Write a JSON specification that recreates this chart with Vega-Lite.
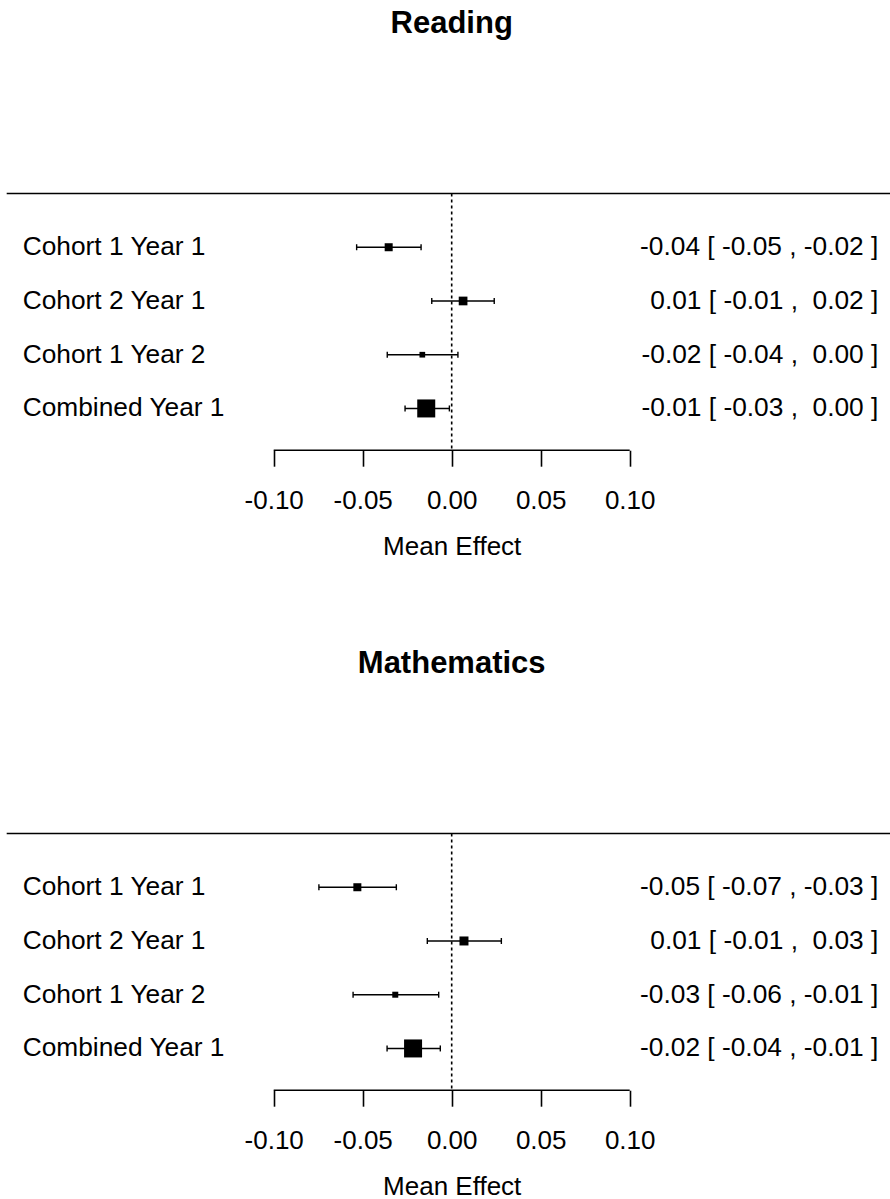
{
  "$schema": "https://vega.github.io/schema/vega-lite/v6.json",
  "background": "white",
  "padding": {"top": 7.5, "left": 0, "right": 0, "bottom": 0},
  "spacing": 88,
  "datasets": {
    "reading": [
      {"study": "Cohort 1 Year 1", "order": 4, "est": -0.0354, "lo": -0.0534, "hi": -0.0172, "weight": 19.8, "ci": "-0.04 [ -0.05 , -0.02 ]"},
      {"study": "Cohort 2 Year 1", "order": 3, "est": 0.0064, "lo": -0.0112, "hi": 0.0239, "weight": 23.4, "ci": "0.01 [ -0.01 , \u00a00.02 ]"},
      {"study": "Cohort 1 Year 2", "order": 2, "est": -0.0165, "lo": -0.0362, "hi": 0.0035, "weight": 10.0, "ci": "-0.02 [ -0.04 , \u00a00.00 ]"},
      {"study": "Combined Year 1", "order": 1, "est": -0.0143, "lo": -0.0262, "hi": -0.0013, "weight": 100, "ci": "-0.01 [ -0.03 , \u00a00.00 ]"}
    ],
    "math": [
      {"study": "Cohort 1 Year 1", "order": 4, "est": -0.0530, "lo": -0.0746, "hi": -0.0311, "weight": 19.8, "ci": "-0.05 [ -0.07 , -0.03 ]"},
      {"study": "Cohort 2 Year 1", "order": 3, "est": 0.0069, "lo": -0.0137, "hi": 0.0279, "weight": 25.0, "ci": "0.01 [ -0.01 , \u00a00.03 ]"},
      {"study": "Cohort 1 Year 2", "order": 2, "est": -0.0317, "lo": -0.0554, "hi": -0.0073, "weight": 11.1, "ci": "-0.03 [ -0.06 , -0.01 ]"},
      {"study": "Combined Year 1", "order": 1, "est": -0.0217, "lo": -0.0363, "hi": -0.0064, "weight": 100, "ci": "-0.02 [ -0.04 , -0.01 ]"}
    ]
  },
  "config": {
    "font": "Liberation Sans",
    "view": {"stroke": null},
    "title": {"fontSize": 31, "fontWeight": "bold", "color": "black", "anchor": "middle", "offset": 152.8, "dx": 6.7, "font": "Liberation Sans"},
    "axis": {"domain": false, "grid": false, "tickSize": 16, "tickWidth": 1.6, "tickColor": "black", "labelFontSize": 26, "labelColor": "black", "labelPadding": 21, "labelFont": "Liberation Sans", "titleFont": "Liberation Sans", "titleFontSize": 26, "titleFontWeight": "normal", "titleColor": "black", "titlePadding": 20, "titleX": 451.7, "labelFlush": false, "labelOverlap": false},
    "text": {"font": "Liberation Sans", "fontSize": 26.3, "color": "black"}
  },
  "vconcat": [
    {
      "title": {"text": "Reading"},
      "width": 890,
      "height": 256.7,
      "data": {"name": "reading"},
      "layer": [
        {
          "data": {"values": [{}]},
          "mark": {"type": "rule", "color": "black", "strokeWidth": 1.7},
          "encoding": {
            "x": {"datum": -0.25, "type": "quantitative", "scale": {"domain": [-0.25376, 0.24624], "nice": false, "zero": false}, "axis": {"values": [-0.1, -0.05, 0, 0.05, 0.1], "format": ".2f", "labelExpr": "replace(datum.label, '\u2212', '-')", "title": "Mean Effect"}},
            "x2": {"datum": 0.24624},
            "y": {"datum": 5, "type": "quantitative", "scale": {"domain": [0.223, 5], "nice": false, "zero": false}, "axis": null}
          }
        },
        {
          "data": {"values": [{}]},
          "mark": {"type": "rule", "color": "black", "strokeWidth": 1.6},
          "encoding": {
            "x": {"datum": -0.1, "type": "quantitative", "scale": {"domain": [-0.25376, 0.24624], "nice": false, "zero": false}, "axis": {"values": [-0.1, -0.05, 0, 0.05, 0.1], "format": ".2f", "labelExpr": "replace(datum.label, '\u2212', '-')", "title": "Mean Effect"}},
            "x2": {"datum": 0.1},
            "y": {"datum": 0.223, "type": "quantitative", "scale": {"domain": [0.223, 5], "nice": false, "zero": false}, "axis": null}
          }
        },
        {
          "data": {"values": [{}]},
          "mark": {"type": "rule", "color": "black", "strokeWidth": 1.6, "strokeDash": [3, 3]},
          "encoding": {
            "x": {"datum": 0, "type": "quantitative", "scale": {"domain": [-0.25376, 0.24624], "nice": false, "zero": false}, "axis": {"values": [-0.1, -0.05, 0, 0.05, 0.1], "format": ".2f", "labelExpr": "replace(datum.label, '\u2212', '-')", "title": "Mean Effect"}}
          }
        },
        {
          "mark": {"type": "rule", "color": "black", "strokeWidth": 1.4},
          "encoding": {
            "x": {"field": "lo", "type": "quantitative", "scale": {"domain": [-0.25376, 0.24624], "nice": false, "zero": false}, "axis": {"values": [-0.1, -0.05, 0, 0.05, 0.1], "format": ".2f", "labelExpr": "replace(datum.label, '\u2212', '-')", "title": "Mean Effect"}},
            "x2": {"field": "hi"},
            "y": {"field": "order", "type": "quantitative", "scale": {"domain": [0.223, 5], "nice": false, "zero": false}, "axis": null}
          }
        },
        {
          "mark": {"type": "tick", "color": "black", "orient": "vertical", "size": 6, "thickness": 1.4, "opacity": 1},
          "encoding": {
            "x": {"field": "lo", "type": "quantitative", "scale": {"domain": [-0.25376, 0.24624], "nice": false, "zero": false}, "axis": {"values": [-0.1, -0.05, 0, 0.05, 0.1], "format": ".2f", "labelExpr": "replace(datum.label, '\u2212', '-')", "title": "Mean Effect"}},
            "y": {"field": "order", "type": "quantitative", "scale": {"domain": [0.223, 5], "nice": false, "zero": false}, "axis": null}
          }
        },
        {
          "mark": {"type": "tick", "color": "black", "orient": "vertical", "size": 6, "thickness": 1.4, "opacity": 1},
          "encoding": {
            "x": {"field": "hi", "type": "quantitative", "scale": {"domain": [-0.25376, 0.24624], "nice": false, "zero": false}, "axis": {"values": [-0.1, -0.05, 0, 0.05, 0.1], "format": ".2f", "labelExpr": "replace(datum.label, '\u2212', '-')", "title": "Mean Effect"}},
            "y": {"field": "order", "type": "quantitative", "scale": {"domain": [0.223, 5], "nice": false, "zero": false}, "axis": null}
          }
        },
        {
          "mark": {"type": "point", "shape": "square", "filled": true, "color": "black", "opacity": 1, "strokeWidth": 0},
          "encoding": {
            "x": {"field": "est", "type": "quantitative", "scale": {"domain": [-0.25376, 0.24624], "nice": false, "zero": false}, "axis": {"values": [-0.1, -0.05, 0, 0.05, 0.1], "format": ".2f", "labelExpr": "replace(datum.label, '\u2212', '-')", "title": "Mean Effect"}},
            "y": {"field": "order", "type": "quantitative", "scale": {"domain": [0.223, 5], "nice": false, "zero": false}, "axis": null},
            "size": {"field": "weight", "type": "quantitative", "scale": {"type": "linear", "domain": [0, 100], "range": [0, 324], "zero": true}, "legend": null}
          }
        },
        {
          "mark": {"type": "text", "align": "left", "baseline": "middle"},
          "encoding": {
            "x": {"datum": -0.241, "type": "quantitative", "scale": {"domain": [-0.25376, 0.24624], "nice": false, "zero": false}, "axis": {"values": [-0.1, -0.05, 0, 0.05, 0.1], "format": ".2f", "labelExpr": "replace(datum.label, '\u2212', '-')", "title": "Mean Effect"}},
            "y": {"field": "order", "type": "quantitative", "scale": {"domain": [0.223, 5], "nice": false, "zero": false}, "axis": null},
            "text": {"field": "study"}
          }
        },
        {
          "mark": {"type": "text", "align": "right", "baseline": "middle"},
          "encoding": {
            "x": {"datum": 0.2397, "type": "quantitative", "scale": {"domain": [-0.25376, 0.24624], "nice": false, "zero": false}, "axis": {"values": [-0.1, -0.05, 0, 0.05, 0.1], "format": ".2f", "labelExpr": "replace(datum.label, '\u2212', '-')", "title": "Mean Effect"}},
            "y": {"field": "order", "type": "quantitative", "scale": {"domain": [0.223, 5], "nice": false, "zero": false}, "axis": null},
            "text": {"field": "ci"}
          }
        }
      ]
    },
    {
      "title": {"text": "Mathematics"},
      "width": 890,
      "height": 256.7,
      "data": {"name": "math"},
      "layer": [
        {
          "data": {"values": [{}]},
          "mark": {"type": "rule", "color": "black", "strokeWidth": 1.7},
          "encoding": {
            "x": {"datum": -0.25, "type": "quantitative", "scale": {"domain": [-0.25376, 0.24624], "nice": false, "zero": false}, "axis": {"values": [-0.1, -0.05, 0, 0.05, 0.1], "format": ".2f", "labelExpr": "replace(datum.label, '\u2212', '-')", "title": "Mean Effect"}},
            "x2": {"datum": 0.24624},
            "y": {"datum": 5, "type": "quantitative", "scale": {"domain": [0.223, 5], "nice": false, "zero": false}, "axis": null}
          }
        },
        {
          "data": {"values": [{}]},
          "mark": {"type": "rule", "color": "black", "strokeWidth": 1.6},
          "encoding": {
            "x": {"datum": -0.1, "type": "quantitative", "scale": {"domain": [-0.25376, 0.24624], "nice": false, "zero": false}, "axis": {"values": [-0.1, -0.05, 0, 0.05, 0.1], "format": ".2f", "labelExpr": "replace(datum.label, '\u2212', '-')", "title": "Mean Effect"}},
            "x2": {"datum": 0.1},
            "y": {"datum": 0.223, "type": "quantitative", "scale": {"domain": [0.223, 5], "nice": false, "zero": false}, "axis": null}
          }
        },
        {
          "data": {"values": [{}]},
          "mark": {"type": "rule", "color": "black", "strokeWidth": 1.6, "strokeDash": [3, 3]},
          "encoding": {
            "x": {"datum": 0, "type": "quantitative", "scale": {"domain": [-0.25376, 0.24624], "nice": false, "zero": false}, "axis": {"values": [-0.1, -0.05, 0, 0.05, 0.1], "format": ".2f", "labelExpr": "replace(datum.label, '\u2212', '-')", "title": "Mean Effect"}}
          }
        },
        {
          "mark": {"type": "rule", "color": "black", "strokeWidth": 1.4},
          "encoding": {
            "x": {"field": "lo", "type": "quantitative", "scale": {"domain": [-0.25376, 0.24624], "nice": false, "zero": false}, "axis": {"values": [-0.1, -0.05, 0, 0.05, 0.1], "format": ".2f", "labelExpr": "replace(datum.label, '\u2212', '-')", "title": "Mean Effect"}},
            "x2": {"field": "hi"},
            "y": {"field": "order", "type": "quantitative", "scale": {"domain": [0.223, 5], "nice": false, "zero": false}, "axis": null}
          }
        },
        {
          "mark": {"type": "tick", "color": "black", "orient": "vertical", "size": 6, "thickness": 1.4, "opacity": 1},
          "encoding": {
            "x": {"field": "lo", "type": "quantitative", "scale": {"domain": [-0.25376, 0.24624], "nice": false, "zero": false}, "axis": {"values": [-0.1, -0.05, 0, 0.05, 0.1], "format": ".2f", "labelExpr": "replace(datum.label, '\u2212', '-')", "title": "Mean Effect"}},
            "y": {"field": "order", "type": "quantitative", "scale": {"domain": [0.223, 5], "nice": false, "zero": false}, "axis": null}
          }
        },
        {
          "mark": {"type": "tick", "color": "black", "orient": "vertical", "size": 6, "thickness": 1.4, "opacity": 1},
          "encoding": {
            "x": {"field": "hi", "type": "quantitative", "scale": {"domain": [-0.25376, 0.24624], "nice": false, "zero": false}, "axis": {"values": [-0.1, -0.05, 0, 0.05, 0.1], "format": ".2f", "labelExpr": "replace(datum.label, '\u2212', '-')", "title": "Mean Effect"}},
            "y": {"field": "order", "type": "quantitative", "scale": {"domain": [0.223, 5], "nice": false, "zero": false}, "axis": null}
          }
        },
        {
          "mark": {"type": "point", "shape": "square", "filled": true, "color": "black", "opacity": 1, "strokeWidth": 0},
          "encoding": {
            "x": {"field": "est", "type": "quantitative", "scale": {"domain": [-0.25376, 0.24624], "nice": false, "zero": false}, "axis": {"values": [-0.1, -0.05, 0, 0.05, 0.1], "format": ".2f", "labelExpr": "replace(datum.label, '\u2212', '-')", "title": "Mean Effect"}},
            "y": {"field": "order", "type": "quantitative", "scale": {"domain": [0.223, 5], "nice": false, "zero": false}, "axis": null},
            "size": {"field": "weight", "type": "quantitative", "scale": {"type": "linear", "domain": [0, 100], "range": [0, 324], "zero": true}, "legend": null}
          }
        },
        {
          "mark": {"type": "text", "align": "left", "baseline": "middle"},
          "encoding": {
            "x": {"datum": -0.241, "type": "quantitative", "scale": {"domain": [-0.25376, 0.24624], "nice": false, "zero": false}, "axis": {"values": [-0.1, -0.05, 0, 0.05, 0.1], "format": ".2f", "labelExpr": "replace(datum.label, '\u2212', '-')", "title": "Mean Effect"}},
            "y": {"field": "order", "type": "quantitative", "scale": {"domain": [0.223, 5], "nice": false, "zero": false}, "axis": null},
            "text": {"field": "study"}
          }
        },
        {
          "mark": {"type": "text", "align": "right", "baseline": "middle"},
          "encoding": {
            "x": {"datum": 0.2397, "type": "quantitative", "scale": {"domain": [-0.25376, 0.24624], "nice": false, "zero": false}, "axis": {"values": [-0.1, -0.05, 0, 0.05, 0.1], "format": ".2f", "labelExpr": "replace(datum.label, '\u2212', '-')", "title": "Mean Effect"}},
            "y": {"field": "order", "type": "quantitative", "scale": {"domain": [0.223, 5], "nice": false, "zero": false}, "axis": null},
            "text": {"field": "ci"}
          }
        }
      ]
    }
  ]
}
